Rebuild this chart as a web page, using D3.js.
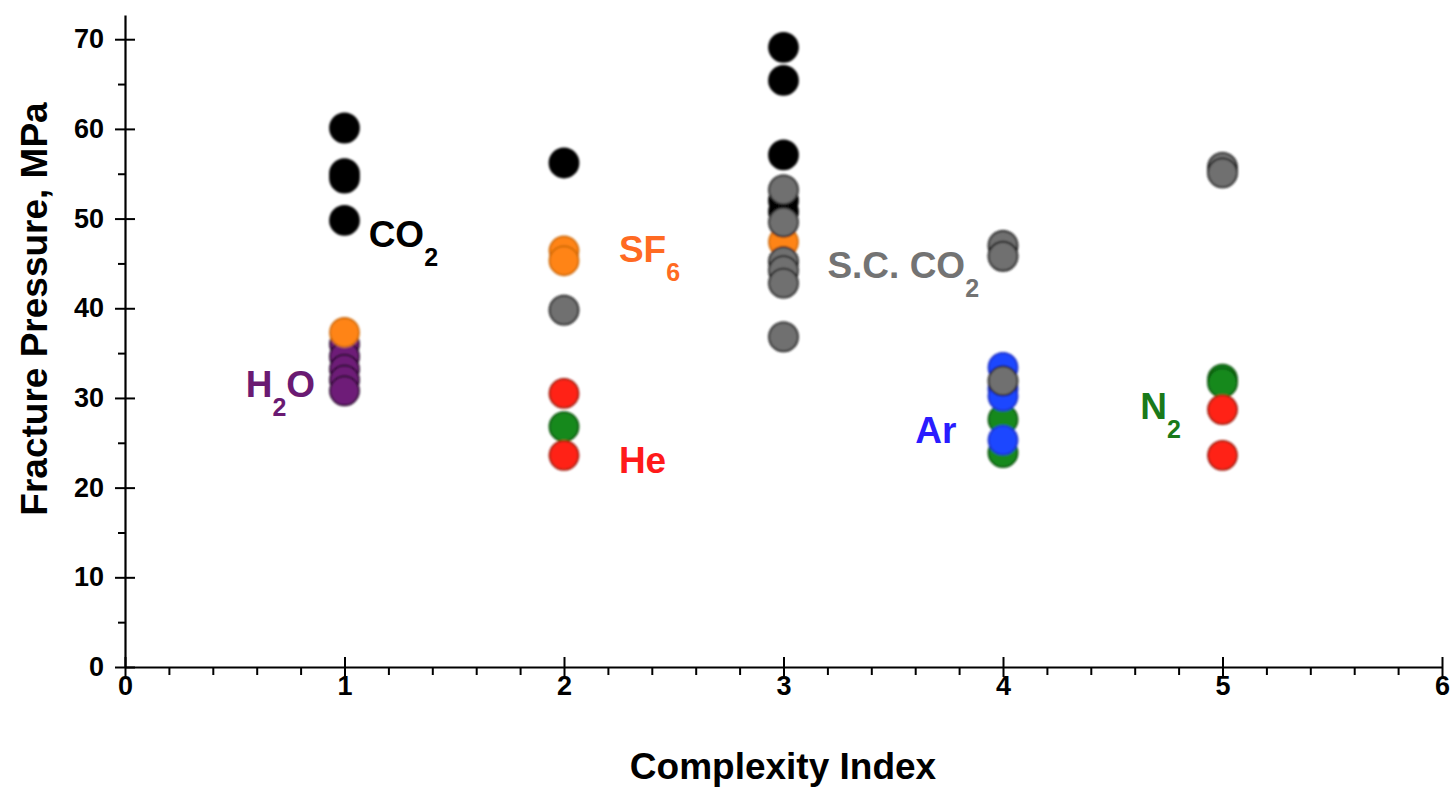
<!DOCTYPE html>
<html>
<head>
<meta charset="utf-8">
<script src="https://cdn.jsdelivr.net/npm/d3@7"></script>
<style>
  html, body { margin: 0; padding: 0; background: #fff; }
  svg { display: block; font-family: "Liberation Sans", Arial, sans-serif; font-weight: bold; }
</style>
</head>
<body>
<svg id="chart" width="1455" height="789"></svg>
<script>
// Fracture pressure (MPa) by complexity index, one array of [index, pressure] per fluid
const co2 = [[1, 60.1], [1, 55.0], [1, 54.5], [1, 49.8], [2, 56.2], [3, 69.1], [3, 65.4], [3, 57.1], [3, 52.0], [3, 50.8]];
const h2o = [[1, 36.0], [1, 34.6], [1, 33.2], [1, 32.0], [1, 30.8]];
const sf6 = [[1, 37.3], [2, 46.4], [2, 45.3], [3, 47.4]];
const n2 = [[2, 26.8], [4, 27.6], [4, 23.9], [5, 32.1], [5, 31.7]];
const ar = [[4, 33.4], [4, 31.0], [4, 30.2], [4, 25.3]];
const he = [[2, 30.5], [2, 23.6], [5, 28.7], [5, 23.6]];
const scco2 = [[2, 39.8], [3, 53.2], [3, 49.6], [3, 45.2], [3, 44.2], [3, 42.8], [3, 36.8], [4, 47.0], [4, 45.8], [4, 31.9], [5, 55.7], [5, 55.1]];

const xTicks = [0, 1, 2, 3, 4, 5, 6];
const yTicks = [0, 10, 20, 30, 40, 50, 60, 70];

// drawing order: later series sit on top
const series = [
  { data: co2,   fill: "#000000", stroke: "#000000" },
  { data: h2o,   fill: "#6e1d78", stroke: "#2a0a2e" },
  { data: sf6,   fill: "#ff8412", stroke: "#d06a10" },
  { data: n2,    fill: "#12891a", stroke: "#0a5510" },
  { data: ar,    fill: "#1f47ff", stroke: "#1a2fc8" },
  { data: he,    fill: "#ff2413", stroke: "#a01a10" },
  { data: scco2, fill: "#707070", stroke: "#1e1e1e" }
];

// in-plot labels: main text, subscript, colour, anchor in data units
const labels = [
  { text: "CO", sub: "2", color: "#000000", x: 1.11, y: 46.8 },
  { text: "H",  sub: "2", color: "#6a1a72", x: 0.55, y: 30.1, tail: "O" },
  { text: "SF", sub: "6", color: "#ff6a22", x: 2.25, y: 45.2 },
  { text: "He", sub: "",  color: "#ff1a1a", x: 2.25, y: 21.6 },
  { text: "S.C. CO", sub: "2", color: "#737373", x: 3.2, y: 43.4 },
  { text: "Ar", sub: "",  color: "#2a1cff", x: 3.6, y: 25.0 },
  { text: "N",  sub: "2", color: "#1a7a1a", x: 4.625, y: 27.7 }
];

const svg = d3.select("#chart");
const mLeft = 125, mRight = 1442, mBottom = 667, mTop = 15;

const x = d3.scaleLinear().domain([0, 6]).range([mLeft, mRight]);
const y = d3.scaleLinear().domain([0, 72.7]).range([mBottom, mTop]);

// soft edge on the markers
const defs = svg.append("defs");
defs.append("filter").attr("id", "soft")
  .attr("x", "-20%").attr("y", "-20%").attr("width", "140%").attr("height", "140%")
  .append("feGaussianBlur").attr("stdDeviation", 0.9);

const axisStyle = g => {
  g.selectAll("path, line").attr("stroke", "#000").attr("stroke-width", 2);
  g.select(".domain").attr("stroke-width", 2.2);
};
const tickText = g => g.selectAll("text").attr("font-size", 27).attr("font-weight", "bold")
  .attr("fill", "#000").attr("font-family", "Liberation Sans, Arial, sans-serif");

// y axis: major ticks cross the line, minor ticks on the outside
svg.append("g").attr("transform", `translate(${mLeft},0)`)
  .call(d3.axisLeft(y).tickValues(d3.range(5, 70, 10)).tickSize(7).tickFormat("").tickSizeOuter(0))
  .call(axisStyle).call(g => g.select(".domain").remove());
svg.append("g").attr("transform", `translate(${mLeft},0)`)
  .call(d3.axisRight(y).tickValues(yTicks).tickSize(10).tickFormat("").tickSizeOuter(0))
  .call(axisStyle).call(g => g.select(".domain").remove());
svg.append("g").attr("transform", `translate(${mLeft},0)`)
  .call(d3.axisLeft(y).tickValues(yTicks).tickFormat(d3.format("d")).tickSize(10).tickPadding(11).tickSizeOuter(0))
  .call(axisStyle).call(tickText);

// x axis
const xMinor = d3.range(0, 31).filter(i => i % 5 !== 0).map(i => i / 5);
svg.append("g").attr("transform", `translate(0,${mBottom})`)
  .call(d3.axisBottom(x).tickValues(xMinor).tickSize(8).tickFormat("").tickSizeOuter(0))
  .call(axisStyle).call(g => g.select(".domain").remove());
svg.append("g").attr("transform", `translate(0,${mBottom})`)
  .call(d3.axisTop(x).tickValues(xTicks).tickSize(10).tickFormat("").tickSizeOuter(0))
  .call(axisStyle).call(g => g.select(".domain").remove());
svg.append("g").attr("transform", `translate(0,${mBottom})`)
  .call(d3.axisBottom(x).tickValues(xTicks).tickFormat(d3.format("d")).tickSize(10).tickPadding(-1).tickSizeOuter(0))
  .call(axisStyle).call(tickText);

// axis titles
svg.append("text")
  .attr("x", 783).attr("y", 779)
  .attr("text-anchor", "middle").attr("font-size", 37).attr("fill", "#000")
  .text("Complexity Index");
svg.append("text")
  .attr("transform", `translate(47,309) rotate(-90)`)
  .attr("text-anchor", "middle").attr("font-size", 37).attr("fill", "#000")
  .text("Fracture Pressure, MPa");

// markers
const marks = svg.append("g").attr("filter", "url(#soft)");
series.forEach(s => {
  marks.append("g").selectAll("circle").data(s.data).join("circle")
    .attr("cx", d => x(d[0])).attr("cy", d => y(d[1])).attr("r", 14.5)
    .attr("fill", s.fill).attr("stroke", s.stroke).attr("stroke-width", 1.8);
});

// fluid labels with subscripts
labels.forEach(l => {
  const t = svg.append("text")
    .attr("x", x(l.x)).attr("y", y(l.y))
    .attr("font-size", 37).attr("fill", l.color);
  t.append("tspan").text(l.text);
  if (l.sub) t.append("tspan").attr("font-size", 25).attr("dy", 19).text(l.sub);
  if (l.tail) t.append("tspan").attr("font-size", 37).attr("dy", -19).text(l.tail);
});
</script>
</body>
</html>
